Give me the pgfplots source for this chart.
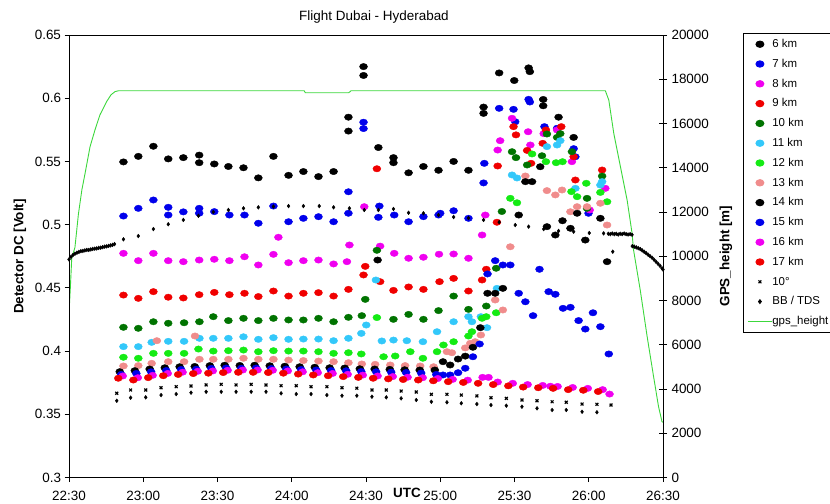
\documentclass[border=0pt]{standalone}
\usepackage{fontspec}
\setmainfont{Liberation Sans}
\usepackage{pgfplots}
\pgfplotsset{compat=1.18}
\definecolor{cblue}{RGB}{0,0,235}
\definecolor{cmag}{RGB}{240,0,240}
\definecolor{cred}{RGB}{240,0,0}
\definecolor{cdgreen}{RGB}{0,115,0}
\definecolor{ccyan}{RGB}{51,200,250}
\definecolor{clime}{RGB}{20,235,20}
\definecolor{csalmon}{RGB}{240,140,140}
\definecolor{cgps}{RGB}{60,215,60}
\newcommand{\fs}[1]{\fontsize{#1}{#1}\selectfont}
\pgfplotsset{dot/.style={only marks, mark=*, color=#1, mark size=3.2bp, mark options={xscale=1.25, fill=#1, draw=#1}}}
\begin{document}
\begin{tikzpicture}
\useasboundingbox (0bp,0bp) rectangle (830bp,504bp);
% ---------- right axis: GPS height ----------
\begin{axis}[at={(69bp,26.5bp)}, anchor=south west, width=594bp, height=442.5bp, scale only axis,
  xmin=0, xmax=240, ymin=0, ymax=20000, axis x line=none, axis y line*=right,
  ytick={0,2000,4000,6000,8000,10000,12000,14000,16000,18000,20000},
  yticklabels={0,2000,4000,6000,8000,10000,12000,14000,16000,18000,20000},
  scaled y ticks=false,
  tick align=center, major tick length=8bp,
  axis line style={line width=0.9bp, black}, every tick/.style={black, line width=0.9bp},
  yticklabel style={font=\fs{13.5}, anchor=west, xshift=1bp}]
\addplot[color=cgps, line width=0.9bp] coordinates {
(0,7400)(0.6,8700)(1.1,9900)(2.4,10400)(3.8,11900)(5.2,13000)(6.5,13750)(8.5,14950)(10.5,15710)(12.5,16390)(15.2,16990)(17.0,17300)(18.6,17440)(20,17480)(95,17480)(95.5,17390)(113,17390)(114,17480)(216.7,17480)(218.1,17060)(220.1,15560)(222.8,14050)(225.5,12540)(227.5,11040)(228.1,10280)(230.8,8475)(233.6,6365)(236.2,4555)(238.2,3200)(239.6,2520)(240,2500)};
\end{axis}
% ---------- left axis: detector DC ----------
\begin{axis}[at={(69bp,26.5bp)}, anchor=south west, width=594bp, height=442.5bp, scale only axis,
  xmin=0, xmax=240, ymin=0.3, ymax=0.65,
  xtick={0,30,60,90,120,150,180,210,240},
  xticklabels={22:30,23:00,23:30,24:00,24:30,25:00,25:30,26:00,26:30},
  ytick={0.3,0.35,0.4,0.45,0.5,0.55,0.6,0.65},
  yticklabels={0.3,0.35,0.4,0.45,0.5,0.55,0.6,0.65},
  xtick pos=bottom, ytick pos=left, tick align=outside, major tick length=4.5bp,
  axis line style={line width=0.9bp, black}, every tick/.style={black, line width=0.9bp},
  xticklabel style={font=\fs{13.5}, yshift=-6bp}, yticklabel style={font=\fs{13.5}},
  legend image code/.code={\draw[mark repeat=2,mark phase=2,#1] plot coordinates {(0bp,0bp) (12bp,0bp) (24bp,0bp)};},
  legend cell align=left,
  legend style={at={(1.1347,1.0045)}, anchor=north west, draw=black, line width=0.9bp, font=\fs{11.5},
    inner xsep=4bp, inner ysep=5bp, row sep=8.3bp,
    nodes={inner sep=0pt, text height=9bp, text depth=2.5bp},
    /tikz/every even column/.append style={column sep=2bp}}]
% 6 km
\addplot[dot=black] coordinates {(22.0,0.5496)(28.0,0.554)(34.1,0.562)(40.1,0.552)(46.2,0.553)(52.6,0.555)(52.6,0.549)(58.7,0.548)(64.4,0.546)(70.5,0.545)(76.5,0.537)(82.6,0.554)(88.7,0.539)(94.7,0.542)(100.8,0.538)(106.9,0.542)(112.9,0.585)(112.9,0.574)(119.0,0.625)(119.0,0.618)(125.0,0.561)(131.1,0.553)(131.1,0.549)(137.2,0.541)(143.2,0.546)(149.3,0.543)(155.4,0.550)(161.4,0.543)(167.5,0.593)(167.5,0.588)(173.8,0.620)(179.9,0.614)(185.7,0.624)(186.2,0.621)(191.6,0.599)(191.6,0.594)(197.8,0.585)(203.9,0.569)};
\addlegendentry{6 km}
% 7 km
\addplot[dot=cblue] coordinates {(22.0,0.5068)(28.0,0.5129)(34.1,0.5195)(40.1,0.5137)(40.1,0.5076)(46.2,0.5101)(52.6,0.5129)(52.6,0.509)(58.7,0.5103)(64.8,0.5076)(70.9,0.5076)(76.5,0.5011)(82.6,0.5147)(88.7,0.5023)(94.7,0.505)(100.8,0.5063)(106.9,0.5023)(112.9,0.509)(112.9,0.526)(119.0,0.581)(119.0,0.576)(125.4,0.5147)(125.0,0.5058)(131.4,0.5076)(137.2,0.5023)(143.2,0.5063)(149.3,0.5076)(150.0,0.509)(155.4,0.511)(161.4,0.505)(167.8,0.5485)(167.5,0.533)(173.8,0.592)(179.6,0.5912)(180.3,0.5814)(185.7,0.5991)(186.2,0.597)(192.1,0.5775)(197.2,0.5762)(203.9,0.5601)(204.6,0.5537)(209.9,0.509)};
\addlegendentry{7 km}
% 8 km
\addplot[dot=cmag] coordinates {(22.0,0.4773)(28.0,0.4715)(34.1,0.4773)(40.1,0.4715)(46.2,0.4707)(52.6,0.472)(58.7,0.4726)(64.8,0.4715)(70.9,0.4746)(76.5,0.4681)(82.6,0.4765)(84.6,0.490)(88.7,0.4699)(94.7,0.4715)(100.8,0.472)(106.9,0.4689)(112.3,0.4707)(113.3,0.4839)(119.3,0.5142)(125.7,0.483)(131.4,0.4773)(137.2,0.4734)(143.2,0.4742)(149.5,0.4766)(155.4,0.4768)(161.4,0.4734)(166.9,0.4918)(168.2,0.5076)(173.2,0.559)(174.2,0.5664)(179.0,0.5841)(185.5,0.5735)(186.4,0.563)(191.8,0.572)(197.2,0.5749)(203.2,0.5498)(210.4,0.5116)(216.7,0.5287)};
\addlegendentry{8 km}
% 9 km
\addplot[dot=cred] coordinates {(22.0,0.4443)(28.0,0.4417)(34.1,0.4470)(40.1,0.4426)(46.2,0.4420)(52.6,0.4446)(58.7,0.4464)(64.8,0.4446)(70.9,0.4457)(76.5,0.4431)(82.6,0.4475)(88.7,0.4435)(94.7,0.4457)(100.8,0.4462)(106.9,0.4435)(112.9,0.4488)(119.0,0.4602)(119.7,0.467)(124.4,0.5442)(125.7,0.4549)(131.1,0.4480)(137.2,0.4507)(143.2,0.4488)(149.7,0.4549)(155.4,0.4575)(161.4,0.4475)(166.9,0.4562)(168.6,0.4647)(172.9,0.5019)(173.2,0.5464)(179.6,0.5775)(180.6,0.5710)(185.1,0.5587)(186.7,0.5485)(191.4,0.5643)(192.7,0.5749)(198.9,0.5775)(203.9,0.5537)(204.6,0.5353)(215.4,0.5432)};
\addlegendentry{9 km}
% 10 km
\addplot[dot=cdgreen] coordinates {(22.0,0.4188)(28.0,0.4180)(34.1,0.4232)(40.1,0.4220)(46.5,0.4224)(52.7,0.4232)(58.3,0.4272)(64.4,0.4241)(70.5,0.4259)(76.5,0.4241)(82.6,0.4259)(88.7,0.4246)(94.7,0.4246)(100.8,0.4259)(106.9,0.4232)(112.9,0.4267)(118.3,0.4280)(119.7,0.4409)(124.4,0.4797)(131.1,0.4251)(137.2,0.4290)(143.2,0.4251)(149.3,0.4320)(155.4,0.4435)(161.4,0.4330)(168.6,0.4356)(172.6,0.4655)(174.9,0.5104)(179.0,0.5577)(180.6,0.5530)(185.1,0.5472)(191.1,0.5545)(193.1,0.5717)(197.2,0.5690)(198.5,0.5720)(203.2,0.5577)(209.3,0.5208)(209.3,0.5129)(215.4,0.5384)};
\addlegendentry{10 km}
% 11 km
\addplot[dot=ccyan] coordinates {(22.0,0.4035)(28.0,0.4035)(33.4,0.4069)(40.1,0.4077)(46.5,0.4077)(52.7,0.4101)(58.3,0.4101)(64.4,0.4101)(70.5,0.4113)(76.5,0.4093)(82.6,0.4106)(88.7,0.4093)(94.7,0.4095)(100.8,0.4095)(106.9,0.4082)(112.9,0.4101)(118.1,0.4140)(120.1,0.4206)(124.0,0.4562)(126.4,0.4080)(131.1,0.4087)(136.5,0.4082)(143.0,0.4074)(148.7,0.4153)(155.4,0.4232)(161.4,0.4272)(162.8,0.4232)(166.4,0.4272)(168.9,0.4185)(172.9,0.4496)(179.0,0.5393)(181.0,0.5369)(193.1,0.5617)(197.2,0.5630)(198.5,0.5664)(204.6,0.5287)(214.7,0.5313)(215.4,0.5340)};
\addlegendentry{11 km}
% 12 km
\addplot[dot=clime] coordinates {(22.0,0.3951)(28.0,0.3943)(34.1,0.3982)(40.1,0.3982)(46.5,0.3982)(52.3,0.4016)(58.3,0.4000)(64.4,0.4003)(70.5,0.4008)(76.5,0.3995)(82.6,0.4003)(88.7,0.4000)(94.7,0.4000)(100.8,0.3995)(106.9,0.3982)(112.9,0.3987)(118.1,0.3977)(124.4,0.4265)(127.1,0.3955)(131.8,0.3961)(137.9,0.3995)(143.0,0.3943)(148.7,0.3995)(151.3,0.4048)(155.4,0.4074)(161.4,0.4119)(162.8,0.4153)(166.9,0.4259)(168.6,0.4272)(172.6,0.4303)(178.3,0.5208)(181.0,0.5173)(187.1,0.5559)(192.7,0.5498)(196.8,0.5490)(199.4,0.5498)(203.0,0.5261)(205.3,0.5221)(209.0,0.5327)(214.7,0.5255)(217.4,0.5181)};
\addlegendentry{12 km}
% 13 km
\addplot[dot=csalmon] coordinates {(22.0,0.3882)(28.0,0.3885)(33.4,0.3903)(35.5,0.4082)(40.1,0.3916)(46.5,0.3916)(50.9,0.4119)(52.7,0.3935)(58.3,0.3935)(64.4,0.3935)(70.5,0.3943)(76.5,0.3935)(82.6,0.3935)(88.7,0.3929)(94.7,0.3925)(100.8,0.3921)(106.9,0.3916)(112.9,0.3908)(118.3,0.3898)(123.7,0.3895)(129.8,0.3890)(135.8,0.3885)(141.9,0.3882)(147.3,0.3876)(152.7,0.3995)(154.7,0.3987)(160.1,0.4025)(162.1,0.4061)(164.1,0.4074)(166.4,0.4127)(172.2,0.4404)(175.3,0.4325)(178.3,0.4825)(184.4,0.5385)(193.1,0.5269)(196.5,0.5235)(199.2,0.5274)(202.6,0.5102)(205.3,0.5142)(209.3,0.5142)(214.7,0.5169)(217.4,0.4997)};
\addlegendentry{13 km}
% 14 km
\addplot[dot=black] coordinates {(20.5,0.3837)(26.6,0.3845)(32.6,0.3858)(38.7,0.3868)(44.7,0.3876)(50.8,0.3878)(56.9,0.3885)(62.9,0.3888)(69.0,0.3886)(75.0,0.3888)(81.1,0.3884)(87.2,0.3880)(93.2,0.3876)(99.3,0.3872)(105.3,0.3868)(111.4,0.3866)(117.5,0.3860)(123.5,0.3858)(124.7,0.4720)(129.6,0.3855)(135.6,0.3852)(141.7,0.3850)(147.8,0.3850)(151.1,0.3916)(154.0,0.3890)(157.2,0.3937)(160.1,0.3960)(163.2,0.4030)(166.2,0.4185)(169.1,0.4457)(172.2,0.4457)(175.3,0.4496)(181.7,0.5076)(184.4,0.5340)(187.1,0.5340)(190.4,0.5458)(193.1,0.4984)(196.5,0.4918)(199.4,0.5031)(202.6,0.4971)(205.3,0.5090)(208.6,0.4878)(214.7,0.5050)(217.4,0.4707)};
\addlegendentry{14 km}
% 15 km
\addplot[dot=cblue] coordinates {(21.1,0.3815)(27.2,0.3823)(33.2,0.3836)(39.3,0.3846)(45.3,0.3854)(51.4,0.3856)(57.5,0.3863)(63.5,0.3866)(69.6,0.3864)(75.6,0.3866)(81.7,0.3862)(87.8,0.3858)(93.8,0.3854)(99.9,0.3850)(105.9,0.3846)(112.0,0.3844)(118.1,0.3838)(124.1,0.3836)(130.2,0.3833)(136.2,0.3830)(142.3,0.3826)(148.4,0.3815)(151.1,0.3811)(154.0,0.3811)(157.2,0.3829)(160.1,0.3864)(163.2,0.3955)(165.9,0.4056)(169.1,0.4610)(172.2,0.4715)(175.3,0.4681)(178.3,0.4681)(181.7,0.4457)(184.4,0.4390)(187.5,0.4280)(190.1,0.4647)(193.8,0.4470)(196.5,0.4449)(199.6,0.4338)(202.6,0.4346)(205.9,0.4241)(208.6,0.4174)(211.7,0.4303)(214.7,0.4193)(218.1,0.3977)};
\addlegendentry{15 km}
% 16 km
\addplot[dot=cmag] coordinates {(21.7,0.3803)(27.8,0.3789)(33.8,0.3808)(39.9,0.3823)(45.9,0.3833)(52.0,0.3840)(58.1,0.3843)(64.1,0.3848)(70.2,0.3850)(76.2,0.3850)(82.3,0.3848)(88.4,0.3843)(94.4,0.3836)(100.5,0.3829)(106.5,0.3823)(112.6,0.3816)(118.7,0.3810)(124.7,0.3803)(130.8,0.3798)(136.8,0.3793)(142.9,0.3789)(149.0,0.3783)(155.0,0.3776)(161.1,0.3770)(167.1,0.3792)(169.5,0.3792)(173.2,0.3755)(179.3,0.3745)(185.3,0.3735)(191.4,0.3728)(194.5,0.3722)(197.4,0.3720)(203.5,0.3712)(209.6,0.3705)(215.6,0.3695)(218.4,0.3660)};
\addlegendentry{16 km}
% 17 km
\addplot[dot=cred] coordinates {(19.9,0.3785)(26.0,0.3771)(32.0,0.3790)(38.1,0.3805)(44.1,0.3815)(50.2,0.3822)(56.3,0.3825)(62.3,0.3830)(68.4,0.3832)(74.4,0.3832)(80.5,0.3830)(86.6,0.3825)(92.6,0.3818)(98.7,0.3811)(104.7,0.3805)(110.8,0.3798)(116.9,0.3792)(122.9,0.3785)(129.0,0.3780)(135.0,0.3775)(141.1,0.3771)(147.2,0.3765)(153.2,0.3758)(159.3,0.3752)(165.3,0.3745)(171.4,0.3735)(177.5,0.3725)(183.5,0.3715)(189.6,0.3710)(195.6,0.3705)(201.7,0.3695)(207.8,0.3690)(213.8,0.3680)};
\addlegendentry{17 km}
% 10 deg
\addplot[only marks, mark=x, color=black, mark size=2bp, mark options={line width=1.2bp}] coordinates {(19.3,0.3666)(24.9,0.3692)(31.0,0.3692)(37.2,0.3710)(43.3,0.3718)(49.3,0.3724)(55.4,0.3732)(61.5,0.3737)(67.5,0.3732)(73.6,0.3737)(79.6,0.3732)(85.7,0.3726)(91.8,0.3726)(97.8,0.3718)(104.2,0.3718)(110.3,0.3710)(116.3,0.3706)(122.4,0.3692)(128.2,0.3692)(134.2,0.3684)(140.3,0.3676)(146.4,0.3658)(152.7,0.3658)(158.5,0.3652)(164.8,0.3645)(170.5,0.3631)(176.7,0.3626)(183.0,0.3613)(189.1,0.3607)(195.2,0.3599)(200.9,0.3595)(207.3,0.3581)(213.3,0.3579)(219.0,0.3573)};
\addlegendentry{10°}
% BB / TDS
\addplot[only marks, mark=diamond*, color=black, mark size=1.9bp] coordinates {(0,0.4725)(0.8,0.4745)(1.6,0.4760)(2.4,0.4770)(3.2,0.4778)(4.0,0.4784)(4.8,0.4790)(5.6,0.4792)(6.4,0.4796)(7.2,0.4800)(8.0,0.4800)(8.8,0.4804)(9.6,0.4808)(10.4,0.4810)(11.2,0.4812)(12.0,0.4816)(12.8,0.4818)(13.6,0.4822)(14.4,0.4826)(15.2,0.4828)(16.0,0.4832)(16.8,0.4836)(17.6,0.4840)(18.4,0.4846)
(22.0,0.4884)(28.0,0.4910)(34.1,0.4965)(40.1,0.5003)(46.2,0.5037)(52.3,0.5070)(58.3,0.5100)(64.4,0.5116)(70.5,0.5129)(76.5,0.5137)(82.6,0.5143)(88.7,0.5147)(94.7,0.5147)(101.1,0.5147)(106.9,0.5137)(113.3,0.5129)(119.3,0.5116)(125.0,0.5116)(131.1,0.5124)(137.2,0.5094)(143.2,0.5090)(149.3,0.5076)(155.4,0.5060)(161.4,0.5052)(167.5,0.5037)(173.8,0.5020)(180.3,0.4997)(185.7,0.4984)(191.8,0.4965)(197.8,0.4950)(203.9,0.4944)(210.2,0.4934)(216.0,0.4931)(219.7,0.4786)
(217.9,0.4928)(218.7,0.4925)(219.5,0.4930)(220.3,0.4925)(221.1,0.4928)(221.9,0.4922)(222.7,0.4928)(223.5,0.4925)(224.3,0.4930)(225.1,0.4925)(225.9,0.4922)(226.7,0.4925)(227.5,0.4920)
(227.6,0.4830)(228.4,0.4826)(229.2,0.4820)(230.0,0.4814)(230.8,0.4807)(231.6,0.4796)(232.4,0.4785)(233.2,0.4774)(234.0,0.4762)(234.8,0.4750)(235.6,0.4738)(236.4,0.4722)(237.2,0.4706)(238.0,0.4690)(238.8,0.4674)(239.6,0.4655)(240,0.4645)};
\addlegendentry{BB / TDS}
\addplot[only marks, mark=diamond*, color=black, mark size=1.9bp, forget plot] coordinates {(19.3,0.3607)(24.9,0.3631)(31.0,0.3634)(37.2,0.3652)(43.3,0.3660)(49.3,0.3671)(55.4,0.3678)(61.5,0.3678)(67.5,0.3678)(73.6,0.3678)(79.6,0.3678)(85.7,0.3666)(91.8,0.3660)(97.8,0.3660)(104.2,0.3652)(110.3,0.3647)(116.3,0.3647)(122.4,0.3639)(128.2,0.3634)(134.2,0.3626)(140.3,0.3613)(146.4,0.3599)(152.7,0.3595)(158.5,0.3587)(164.8,0.3581)(170.5,0.3573)(176.7,0.3568)(183.0,0.3560)(189.1,0.3547)(195.2,0.3534)(200.9,0.3534)(207.3,0.3520)(213.3,0.3516)};
\addlegendimage{color=cgps, line width=0.9bp}
\addlegendentry{gps\_height}
\end{axis}
% ---------- titles and labels ----------
\node[anchor=base, font=\fs{13.5}] at (374bp,483.2bp) {Flight Dubai - Hyderabad};
\node[anchor=base, font=\bfseries\fs{13.5}] at (407bp,6.2bp) {UTC};
\node[rotate=90, font=\bfseries\fs{13.5}] at (20bp,247.5bp) {Detector DC [Volt]};
\node[rotate=90, font=\bfseries\fs{13.5}] at (726bp,248bp) {GPS\_height [m]};
\end{tikzpicture}
\end{document}
